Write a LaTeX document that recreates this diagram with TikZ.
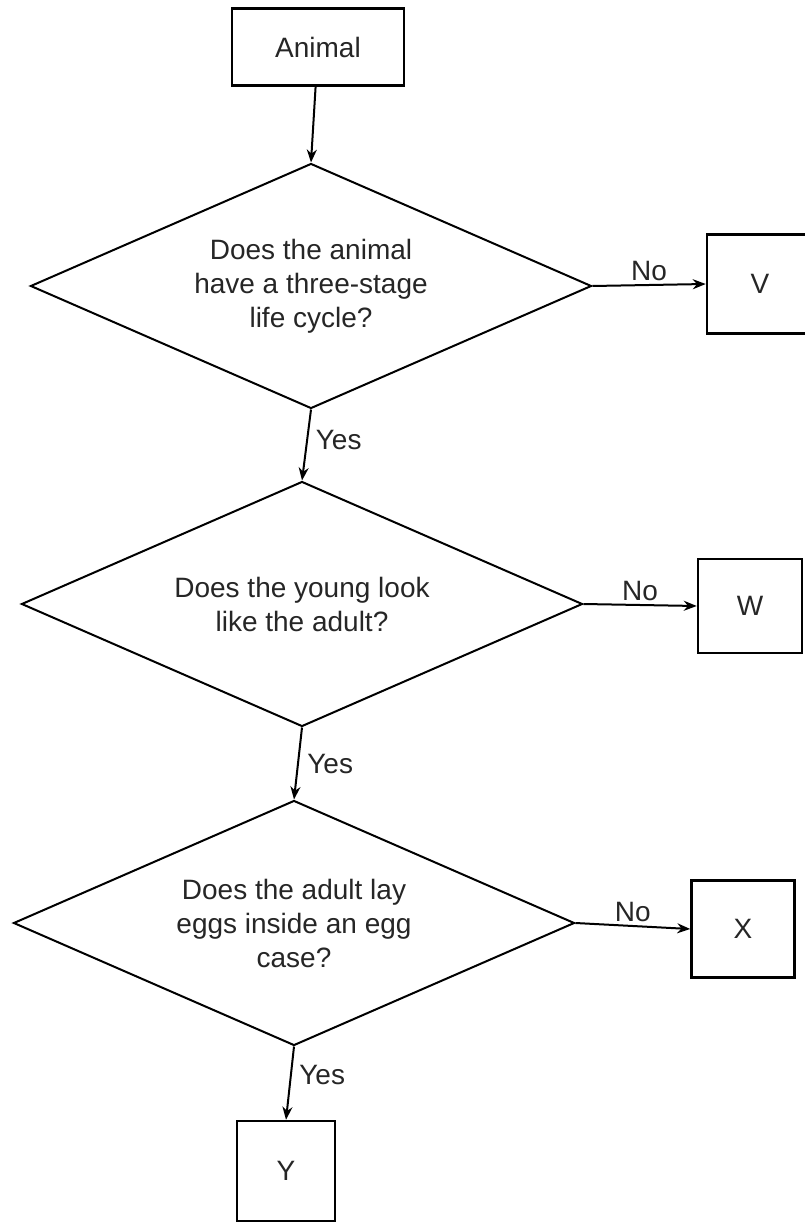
\documentclass[tikz,border=0pt]{standalone}
\usepackage{fontspec}
\setmainfont{Liberation Sans}
\usetikzlibrary{shapes, arrows.meta}

\begin{document}
\begin{tikzpicture}[x=1pt, y=-1pt, line width=2pt,
             every node/.style={font=\fontsize{28}{34}\selectfont, text=black!85},
             box/.style={draw, rectangle, line width=2.5pt, inner sep=0pt},
             question/.style={draw, diamond, aspect=2.3, inner sep=0pt, minimum width=561pt, minimum height=245pt, align=center},
             flow/.style={-{Stealth[length=13pt, width=10pt]}}]
             \fill[white] (0,0) rectangle (804,1222);
             \useasboundingbox (0,0) rectangle (804,1222);
             % boxes and questions
             \node[box, minimum width=172pt, minimum height=77pt] (animal) at (318,47) {Animal};
             \node[question] (q1) at (311,286) {Does the animal\\have a three-stage\\life cycle?};
             \node[question] (q2) at (302,604) {Does the young look\\like the adult?};
             \node[question] (q3) at (294,923) {Does the adult lay\\eggs inside an egg\\case?};
             \node[box, minimum width=106pt, minimum height=99pt] (v) at (760,284) {V};
             \node[box, minimum width=104pt, minimum height=94pt] (w) at (750,606) {W};
             \node[box, minimum width=103pt, minimum height=97pt] (x) at (743,929) {X};
             \node[box, minimum width=98pt, minimum height=100pt] (y) at (286,1171) {Y};
             % connectors
             \draw[flow] (animal) -- (q1.north);
             \draw[flow] (q1.east) -- (v.west) node[midway, above]{No};
             \draw[flow] (q1.south) -- (q2.north) node[midway, right, xshift=5pt, yshift=5pt]{Yes};
             \draw[flow] (q2.east) -- (w.west) node[midway, above]{No};
             \draw[flow] (q2.south) -- (q3.north) node[midway, right, xshift=5pt]{Yes};
             \draw[flow] (q3.east) -- (x.west) node[midway, above]{No};
             \draw[flow] (q3.south) -- (y.north) node[midway, right, xshift=5pt, yshift=8pt]{Yes};
         \end{tikzpicture}
\end{document}
